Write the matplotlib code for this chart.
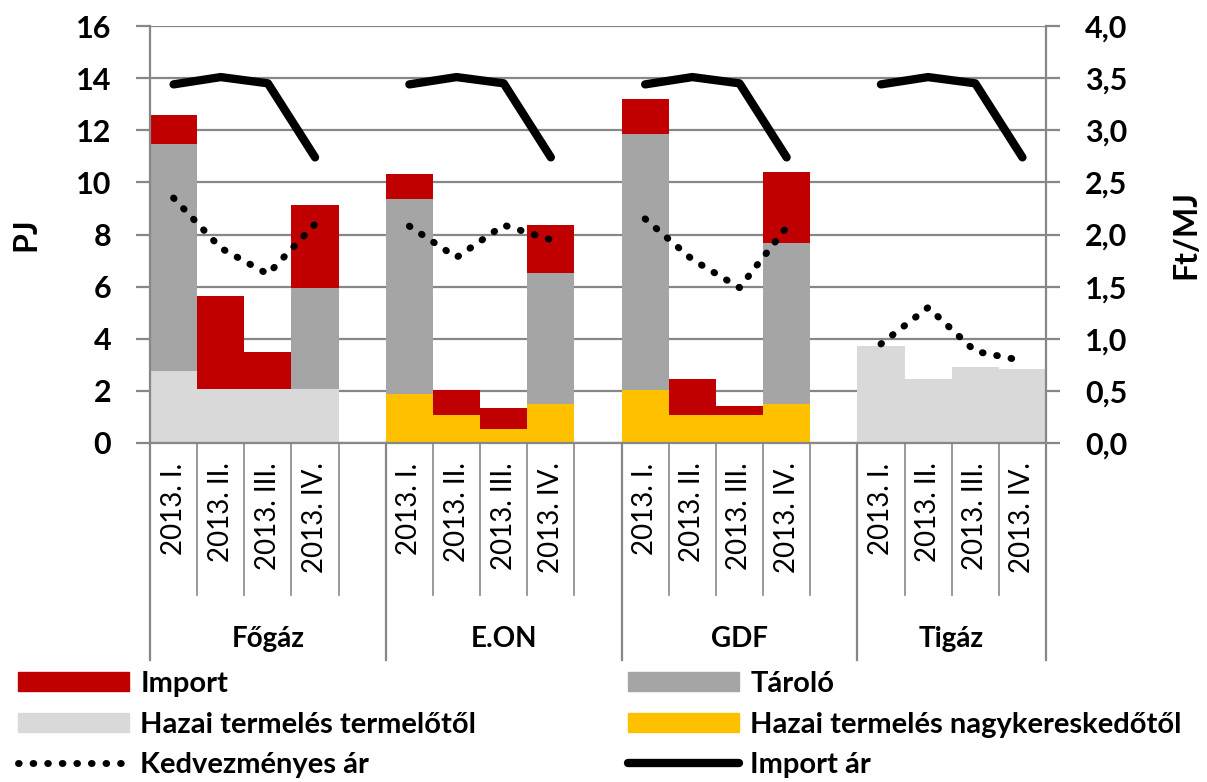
import matplotlib.pyplot as plt
import numpy as np
from matplotlib.patches import Patch
from matplotlib.lines import Line2D

plt.rcParams['font.family'] = ['Lato', 'DejaVu Sans']

# groups (companies) and quarters
groups = ["Főgáz", "E.ON", "GDF", "Tigáz"]
quarters = ["2013. I.", "2013. II.", "2013. III.", "2013. IV."]

# PJ values per group, per quarter
hazai_termelotol = [[2.77, 2.09, 2.09, 2.09],
                    [0, 0, 0, 0],
                    [0, 0, 0, 0],
                    [3.73, 2.46, 2.92, 2.85]]
hazai_nagyker = [[0, 0, 0, 0],
                 [1.87, 1.08, 0.55, 1.50],
                 [2.04, 1.08, 1.08, 1.50],
                 [0, 0, 0, 0]]
taroló = [[8.69, 0, 0, 3.84],
          [7.48, 0, 0, 5.04],
          [9.81, 0, 0, 6.19],
          [0, 0, 0, 0]]
import_pj = [[1.12, 3.56, 1.41, 3.19],
             [0.96, 0.96, 0.80, 1.84],
             [1.34, 1.38, 0.34, 2.69],
             [0, 0, 0, 0]]

# Ft/MJ prices
kedvezmenyes_ar = [[2.35, 1.87, 1.62, 2.10],
                   [2.08, 1.78, 2.09, 1.95],
                   [2.15, 1.76, 1.49, 2.07],
                   [0.95, 1.30, 0.88, 0.79]]
import_ar = [[3.44, 3.51, 3.45, 2.74],
             [3.44, 3.51, 3.45, 2.74],
             [3.44, 3.51, 3.45, 2.74],
             [3.44, 3.51, 3.45, 2.74]]

c_import = "#C00000"
c_tarolo = "#A5A5A5"
c_termelo = "#D9D9D9"
c_nagyker = "#FFC000"
grid_c = "#878787"

# one empty slot after every group except the last
n_q = len(quarters)
slot = n_q + 1
x = np.array([slot * g + q for g in range(len(groups)) for q in range(n_q)])
n_slots = slot * len(groups) - 1

def flat(a):
    return np.array(a, dtype=float).ravel()

def with_gaps(a):
    # put NaN in the empty slots so the lines break between groups
    out = np.full(n_slots, np.nan)
    out[x] = flat(a)
    return out

fig = plt.figure(figsize=(12.07, 7.82), dpi=100)
ax = fig.add_axes([150 / 1207, 339 / 782, 896 / 1207, 417 / 782])

b1 = flat(hazai_termelotol)
b2 = flat(hazai_nagyker)
b3 = flat(taroló)
b4 = flat(import_pj)
ax.bar(x, b1, width=1.0, color=c_termelo, zorder=2)
ax.bar(x, b2, width=1.0, bottom=b1, color=c_nagyker, zorder=2)
ax.bar(x, b3, width=1.0, bottom=b1 + b2, color=c_tarolo, zorder=2)
ax.bar(x, b4, width=1.0, bottom=b1 + b2 + b3, color=c_import, zorder=2)

ax.set_xlim(-0.5, n_slots - 0.5)
ax.set_ylim(0, 16)
ax.set_yticks(np.arange(0, 17, 2))
ax.yaxis.grid(True, color=grid_c, lw=1.6, zorder=0)
ax.set_axisbelow(True)
for s in ["left", "right", "bottom"]:
    ax.spines[s].set_color(grid_c)
    ax.spines[s].set_linewidth(1.6)
ax.spines["top"].set_visible(False)
ax.tick_params(axis="y", direction="out", length=10, width=1.6, color=grid_c,
               labelsize=22, pad=18)
for lbl in ax.get_yticklabels():
    lbl.set_fontweight("bold")
ax.set_ylabel("PJ", fontsize=23, fontweight="bold")
ax.yaxis.set_label_coords(-0.122, 0.5)

# quarter labels under the bars
ax.set_xticks(x)
ax.set_xticklabels(quarters * len(groups), rotation=90, fontsize=20)
ax.tick_params(axis="x", length=0, pad=14)

# category separator lines below the axis
xt = ax.get_xaxis_transform()
group_edges = [slot * g - 0.5 for g in range(len(groups))] + [n_slots - 0.5]
for b in np.arange(-0.5, n_slots, 1.0):
    if b in group_edges:
        continue
    ax.plot([b, b], [0, -0.365], transform=xt, color=grid_c, lw=1.2, clip_on=False)
for b in group_edges:
    ax.plot([b, b], [0, -0.52], transform=xt, color=grid_c, lw=1.6, clip_on=False)
for g, name in enumerate(groups):
    mid = (group_edges[g] + group_edges[g + 1]) / 2
    ax.text(mid, -0.47, name, transform=xt, ha="center", va="center",
            fontsize=20, fontweight="bold")

# price lines on the right axis
ax2 = ax.twinx()
ax2.plot(np.arange(n_slots), with_gaps(import_ar), color="black", lw=6,
         solid_capstyle="round", solid_joinstyle="round", zorder=3)
ax2.plot(np.arange(n_slots), with_gaps(kedvezmenyes_ar), color="black", lw=5,
         linestyle=(0, (0.1, 2.0)), dash_capstyle="round", zorder=3)
ax2.set_ylim(0, 4)
ax2.set_yticks(np.arange(0, 4.01, 0.5))
ax2.set_yticklabels([f"{v:.1f}".replace(".", ",") for v in np.arange(0, 4.01, 0.5)])
ax2.tick_params(axis="y", direction="out", length=10, width=1.6, color=grid_c,
                labelsize=22, pad=18)
for lbl in ax2.get_yticklabels():
    lbl.set_fontweight("bold")
for s in ["left", "right", "bottom", "top"]:
    ax2.spines[s].set_visible(False)
ax2.set_ylabel("Ft/MJ", fontsize=23, fontweight="bold")
ax2.yaxis.set_label_coords(1.14, 0.5)

# legend in two columns
h_left = [Patch(color=c_import), Patch(color=c_termelo),
          Line2D([], [], color="black", lw=5, linestyle=(0, (0.1, 2.0)),
                 dash_capstyle="round")]
l_left = ["Import", "Hazai termelés termelőtől", "Kedvezményes ár"]
h_right = [Patch(color=c_tarolo), Patch(color=c_nagyker),
           Line2D([], [], color="black", lw=6, solid_capstyle="round")]
l_right = ["Tároló", "Hazai termelés nagykereskedőtől", "Import ár"]
kw = dict(frameon=False, loc="upper left", handlelength=3.8, handleheight=0.65,
          handletextpad=0.4, labelspacing=0.5, borderaxespad=0, borderpad=0,
          prop={"size": 21, "weight": "bold"})
fig.legend(h_left, l_left, bbox_to_anchor=(18 / 1207, 1 - 671 / 782), **kw)
fig.legend(h_right, l_right, bbox_to_anchor=(628 / 1207, 1 - 671 / 782), **kw)

fig.savefig("out.png", dpi=100)
